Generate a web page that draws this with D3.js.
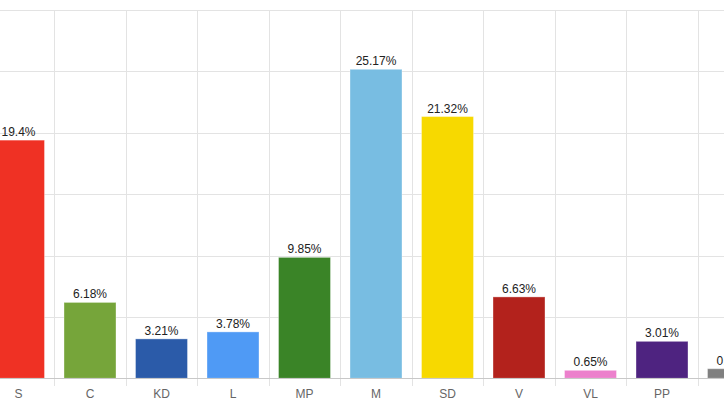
<!DOCTYPE html>
<html>
<head>
<meta charset="utf-8">
<script src="https://cdn.jsdelivr.net/npm/d3@7"></script>
<style>
html, body { margin: 0; padding: 0; background: #fff; overflow: hidden; }
svg { display: block; font-family: "Liberation Sans", Arial, sans-serif; }
</style>
</head>
<body>
<svg id="chart" width="724" height="407"></svg>
<script>
const categories = ["S", "C", "KD", "L", "MP", "M", "SD", "V", "VL", "PP", "Ö"];
const values = [19.4, 6.18, 3.21, 3.78, 9.85, 25.17, 21.32, 6.63, 0.65, 3.01, 0.78];
const colors = ["#ef3124", "#76a53a", "#2b5ba9", "#4f9af5", "#3a8427", "#78bde2", "#f7d900", "#b3221c", "#ec80cc", "#4e2380", "#808080"];
const yTicks = [0, 5, 10, 15, 20, 25, 30];

const svg = d3.select("#chart");
const step = 71.5;
const x0 = 18.5 - step / 2;
const x = d3.scaleBand().domain(categories).range([x0, x0 + step * categories.length]).padding(0);
const y = d3.scaleLinear().domain([0, 30]).range([378.3, 10]);
const barW = x.bandwidth() * 0.727;

// horizontal gridlines
svg.append("g").selectAll("line").data(yTicks.slice(1)).join("line")
  .attr("x1", 0).attr("x2", 724)
  .attr("y1", d => Math.round(y(d)) + 0.5).attr("y2", d => Math.round(y(d)) + 0.5)
  .attr("stroke", "#e3e3e3").attr("stroke-width", 1);

// vertical gridlines at band boundaries
svg.append("g").selectAll("line").data(categories.slice(1)).join("line")
  .attr("x1", d => Math.round(x(d)) + 0.5).attr("x2", d => Math.round(x(d)) + 0.5)
  .attr("y1", y(30)).attr("y2", 386)
  .attr("stroke", "#e3e3e3").attr("stroke-width", 1);

// bars
const data = categories.map((c, i) => ({ c, v: values[i], col: colors[i] }));
svg.append("g").selectAll("rect").data(data).join("rect")
  .attr("x", d => x(d.c) + (x.bandwidth() - barW) / 2)
  .attr("width", barW)
  .attr("y", d => y(d.v))
  .attr("height", d => y(0) - y(d.v))
  .attr("fill", d => d.col)
  .attr("stroke", "rgba(255,255,255,0.35)")
  .attr("stroke-width", 1);

// baseline
svg.append("line")
  .attr("x1", 0).attr("x2", 724)
  .attr("y1", Math.round(y(0)) + 0.5).attr("y2", Math.round(y(0)) + 0.5)
  .attr("stroke", "#c8c8c8").attr("stroke-width", 1);

// value labels
svg.append("g").selectAll("text").data(data).join("text")
  .attr("x", d => x(d.c) + x.bandwidth() / 2)
  .attr("y", d => y(d.v) - 4)
  .attr("text-anchor", "middle")
  .attr("font-size", 12)
  .attr("fill", "#222")
  .text(d => d.v + "%");

// category axis
const axis = d3.axisBottom(x).tickSize(0).tickPadding(11);
const ax = svg.append("g").attr("transform", `translate(0,${y(0)})`).call(axis);
ax.select(".domain").remove();
ax.selectAll("text").attr("font-size", 12).attr("fill", "#666")
  .attr("font-family", "'Liberation Sans', Arial, sans-serif");
</script>
</body>
</html>
